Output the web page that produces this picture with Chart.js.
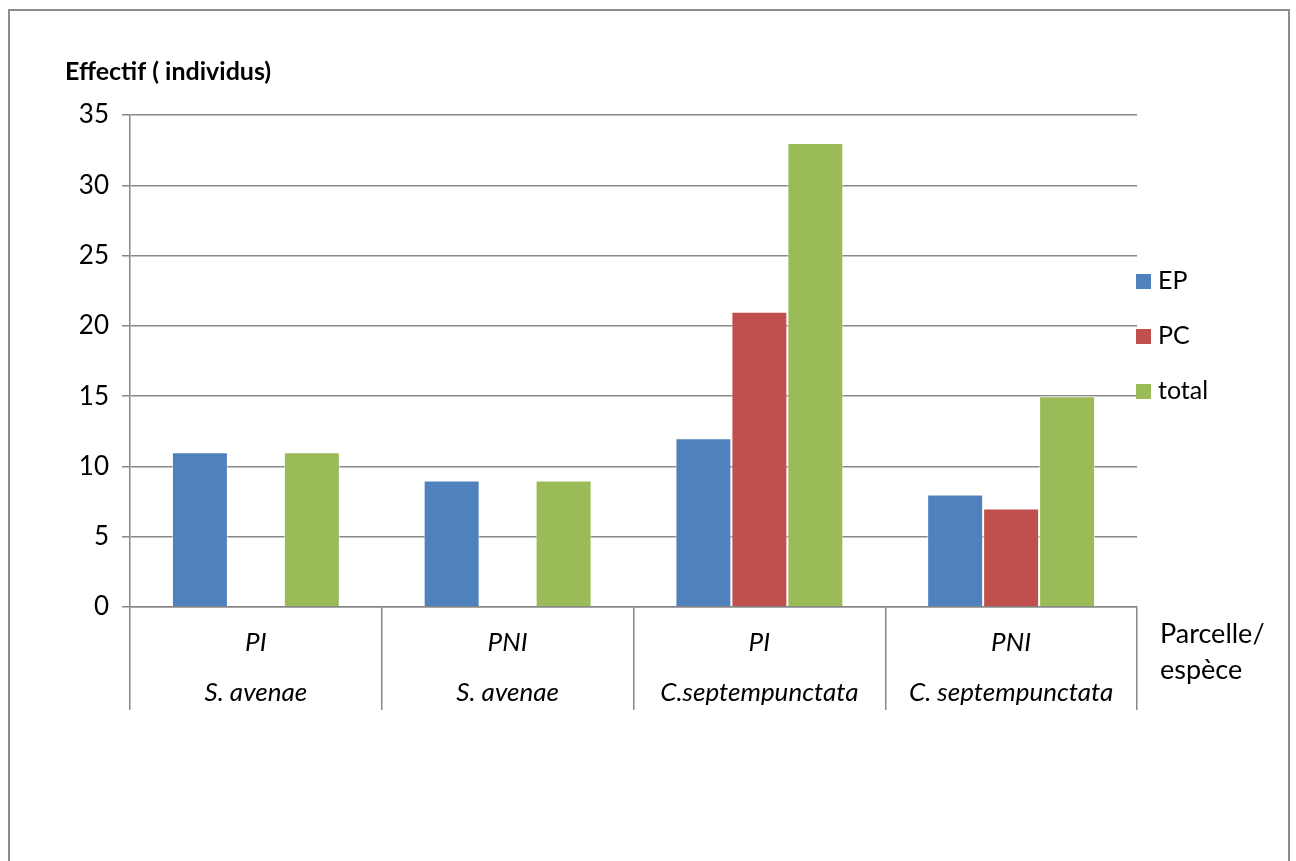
<!DOCTYPE html>
<html>
<head>
<meta charset="utf-8">
<script src="https://cdn.jsdelivr.net/npm/chart.js@4"></script>
<style>
html,body{margin:0;padding:0;background:#fff;}
#wrap{position:relative;width:1296px;height:861px;}
</style>
</head>
<body>
<div id="wrap"><canvas id="c" width="1296" height="861"></canvas></div>
<script>
const parcelles=['PI','PNI','PI','PNI'];
const especes=['S. avenae','S. avenae','C.septempunctata','C. septempunctata'];
const seriesNames=['EP','PC','total'];
const ep=[11,9,12,8];
const pc=[0,0,21,7];
const total=[11,9,33,15];
const yTicks=[0,5,10,15,20,25,30,35];
const colors=['#4F81BD','#C0504D','#9BBB59'];

const FONT='Lato, "Open Sans", sans-serif';
const GRID='#878787';

// frame, axis titles, two-row category labels, legend
const extras={
  id:'extras',
  beforeDraw(ch){
    const c=ch.ctx;
    c.save();c.fillStyle='#fff';c.fillRect(0,0,ch.width,ch.height);
    c.strokeStyle='#8c8c8c';c.lineWidth=2;
    c.strokeRect(9,10,1280,900);
    c.restore();
  },
  afterDraw(ch){
    const c=ch.ctx, x=ch.scales.x, a=ch.chartArea;
    c.save();
    c.fillStyle='#000';c.textBaseline='middle';
    c.font='bold 25px '+FONT;c.textAlign='left';
    c.fillText('Effectif ( individus)',65,72);
    c.font='italic 26px '+FONT;c.textAlign='center';
    parcelles.forEach((p,i)=>{
      const px=x.getPixelForValue(i);
      c.fillText(p,px,643);
      c.fillText(especes[i],px,693);
    });
    c.font='27px '+FONT;c.textAlign='left';
    c.fillText('Parcelle/',1160,634);
    c.fillText('espèce',1160,670);
    c.font='25px '+FONT;
    ch.data.datasets.forEach((d,i)=>{
      const y=281+i*55;
      c.fillStyle=d.backgroundColor;
      c.fillRect(a.right-1,y-7,15,15);
      c.fillStyle='#000';
      c.fillText(d.label,a.right+21,y);
    });
    c.restore();
  }
};

new Chart(document.getElementById('c'),{
  type:'bar',
  data:{
    labels:parcelles.map((p,i)=>[p,especes[i]]),
    datasets:[ep,pc,total].map((d,i)=>({
      label:seriesNames[i],data:d,backgroundColor:colors[i],
      borderColor:'rgba(255,255,255,0.6)',borderWidth:1,
      categoryPercentage:0.667,barPercentage:1
    }))
  },
  options:{
    responsive:false,animation:false,
    layout:{padding:{top:115,right:159,left:0,bottom:0}},
    plugins:{legend:{display:false},tooltip:{enabled:false}},
    scales:{
      x:{
        ticks:{display:false},
        grid:{display:true,drawOnChartArea:false,drawTicks:true,tickLength:103,color:GRID,lineWidth:1.5,offset:true},
        border:{display:true,color:GRID,width:1.5},
        afterFit(s){s.height=254;}
      },
      y:{
        min:0,max:35,
        afterBuildTicks(s){s.ticks=yTicks.map(v=>({value:v}));},
        ticks:{font:{family:FONT,size:26},color:'#000',padding:13},
        grid:{color:GRID,lineWidth:1.5,tickLength:8},
        border:{display:true,color:GRID,width:1.5},
        afterFit(s){s.width=130;}
      }
    }
  },
  plugins:[extras]
});
</script>
</body>
</html>
